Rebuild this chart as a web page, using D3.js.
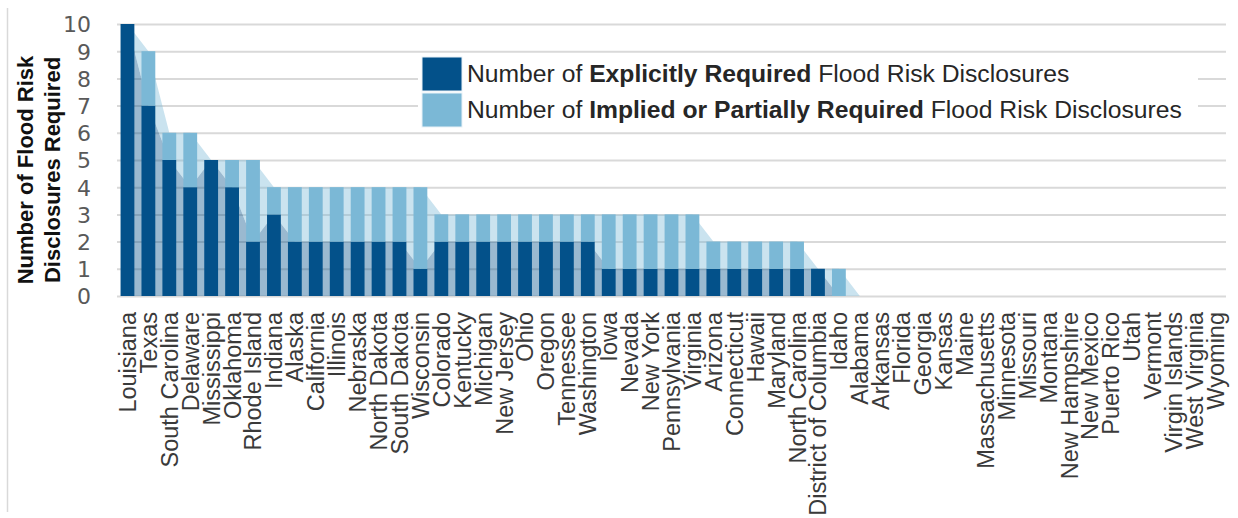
<!DOCTYPE html>
<html>
<head>
<meta charset="utf-8">
<script src="https://cdn.jsdelivr.net/npm/d3@7"></script>
<style>
  body { margin: 0; background: #fff; }
  svg { display: block; }
  .ytick text { font-family: "DejaVu Sans", sans-serif; font-size: 22px; fill: #595959; }
  .xtick text { font-family: "Liberation Sans", Arial, sans-serif; font-size: 23.5px; fill: #3a3a3a; }
  .legend text { font-family: "Liberation Sans", Arial, sans-serif; font-size: 24.7px; fill: #262626; }
  .ytitle { font-family: "Liberation Sans", Arial, sans-serif; font-size: 22px; font-weight: bold; fill: #111; }
</style>
</head>
<body>
<div id="chart"></div>
<script>
// states, in the order the chart sorts them
const states = [
  'Louisiana', 'Texas', 'South Carolina', 'Delaware', 'Mississippi', 'Oklahoma',
  'Rhode Island', 'Indiana', 'Alaska', 'California', 'Illinois', 'Nebraska',
  'North Dakota', 'South Dakota', 'Wisconsin', 'Colorado', 'Kentucky', 'Michigan',
  'New Jersey', 'Ohio', 'Oregon', 'Tennessee', 'Washington', 'Iowa', 'Nevada',
  'New York', 'Pennsylvania', 'Virginia', 'Arizona', 'Connecticut', 'Hawaii',
  'Maryland', 'North Carolina', 'District of Columbia', 'Idaho', 'Alabama',
  'Arkansas', 'Florida', 'Georgia', 'Kansas', 'Maine', 'Massachusetts',
  'Minnesota', 'Missouri', 'Montana', 'New Hampshire', 'New Mexico',
  'Puerto Rico', 'Utah', 'Vermont', 'Virgin Islands', 'West Virginia', 'Wyoming'
];

// explicitly required disclosures
const explicit = [
  10, 7, 5, 4, 5, 4, 2, 3, 2, 2, 2, 2, 2, 2, 1, 2, 2, 2, 2, 2, 2, 2, 2,
  1, 1, 1, 1, 1, 1, 1, 1, 1, 1, 1, 0,
  0, 0, 0, 0, 0, 0, 0, 0, 0, 0, 0, 0, 0, 0, 0, 0, 0, 0
];

// implied or partially required disclosures (stacked on top)
const implied = [
  0, 2, 1, 2, 0, 1, 3, 1, 2, 2, 2, 2, 2, 2, 3, 1, 1, 1, 1, 1, 1, 1, 1,
  2, 2, 2, 2, 2, 1, 1, 1, 1, 1, 0, 1,
  0, 0, 0, 0, 0, 0, 0, 0, 0, 0, 0, 0, 0, 0, 0, 0, 0, 0
];

const yTicks = [0, 1, 2, 3, 4, 5, 6, 7, 8, 9, 10];

const seriesNames = [
  ['Number of ', 'Explicitly Required', ' Flood Risk Disclosures'],
  ['Number of ', 'Implied or Partially Required', ' Flood Risk Disclosures']
];

const colors = { explicit: '#03518a', implied: '#7bb8d6' };

const width = 1238, height = 518;
const plot = { left: 117, right: 1226, top: 24, bottom: 296 };

const rows = states.map((s, i) => ({ state: s, explicit: explicit[i], implied: implied[i] }));

const svg = d3.select('#chart').append('svg')
  .attr('width', width)
  .attr('height', height);

// faint frame line on the left
svg.append('line')
  .attr('x1', 7.5).attr('x2', 7.5)
  .attr('y1', 8).attr('y2', 512)
  .attr('stroke', '#d9d9d9')
  .attr('stroke-width', 1.5);

const x = d3.scaleBand()
  .domain(states)
  .range([plot.left, plot.right])
  .paddingInner(0.34)
  .paddingOuter(0.17);

const y = d3.scaleLinear()
  .domain([0, 10])
  .range([plot.bottom, plot.top]);

// gridlines (also the baseline at 0)
svg.append('g')
  .attr('transform', `translate(${plot.left},0)`)
  .call(d3.axisLeft(y).tickValues(yTicks).tickSize(-(plot.right - plot.left)).tickFormat(''))
  .call(g => g.select('.domain').remove())
  .call(g => g.selectAll('line').attr('stroke', '#d9d9d9').attr('stroke-width', 2));

// y tick labels
svg.append('g')
  .attr('class', 'ytick')
  .attr('transform', `translate(${plot.left},0)`)
  .call(d3.axisLeft(y).tickValues(yTicks).tickSize(0).tickPadding(26))
  .call(g => g.select('.domain').remove())
  .call(g => g.selectAll('text').attr('dy', '0.36em'));

// translucent stacked area behind the bars, through the band centres
const stack = d3.stack().keys(['explicit', 'implied']);
const layers = stack(rows);

const area = d3.area()
  .x(d => x(d.data.state) + x.bandwidth() / 2)
  .y0(d => y(d[0]))
  .y1(d => y(d[1]));

svg.append('g')
  .selectAll('path')
  .data(layers)
  .join('path')
  .attr('d', area)
  .attr('fill', d => colors[d.key])
  .attr('fill-opacity', 0.4);

// stacked bars
svg.append('g')
  .selectAll('g')
  .data(layers)
  .join('g')
  .attr('fill', d => colors[d.key])
  .selectAll('rect')
  .data(d => d)
  .join('rect')
  .attr('x', d => x(d.data.state))
  .attr('y', d => y(d[1]))
  .attr('width', x.bandwidth())
  .attr('height', d => y(d[0]) - y(d[1]));

// x labels, rotated
svg.append('g')
  .attr('class', 'xtick')
  .attr('transform', `translate(0,${plot.bottom})`)
  .call(d3.axisBottom(x).tickSize(0))
  .call(g => g.select('.domain').remove())
  .call(g => g.selectAll('text')
    .attr('transform', 'rotate(-90)')
    .attr('text-anchor', 'end')
    .attr('x', -16)
    .attr('y', 0)
    .attr('dy', '0.36em'));

// y axis title
const ytitle = svg.append('text')
  .attr('class', 'ytitle')
  .attr('text-anchor', 'middle')
  .attr('transform', 'translate(0,170) rotate(-90)');
ytitle.append('tspan').attr('x', 0).attr('y', 33).text('Number of Flood Risk');
ytitle.append('tspan').attr('x', 0).attr('y', 60).text('Disclosures Required');

// legend
const legend = svg.append('g').attr('class', 'legend');
legend.append('rect')
  .attr('x', 418).attr('y', 53)
  .attr('width', 780).attr('height', 77)
  .attr('fill', '#fff');

const legendKeys = ['explicit', 'implied'];
legendKeys.forEach((k, i) => {
  const ly = 57 + i * 36;
  legend.append('rect')
    .attr('x', 422).attr('y', ly)
    .attr('width', 40).attr('height', 34)
    .attr('fill', colors[k])
    .attr('stroke', '#e8f1f7')
    .attr('stroke-width', 1);
  const t = legend.append('text')
    .attr('x', 467)
    .attr('y', ly + 25);
  seriesNames[i].forEach((part, j) => {
    t.append('tspan')
      .attr('font-weight', j === 1 ? 'bold' : null)
      .text(part);
  });
});
</script>
</body>
</html>
